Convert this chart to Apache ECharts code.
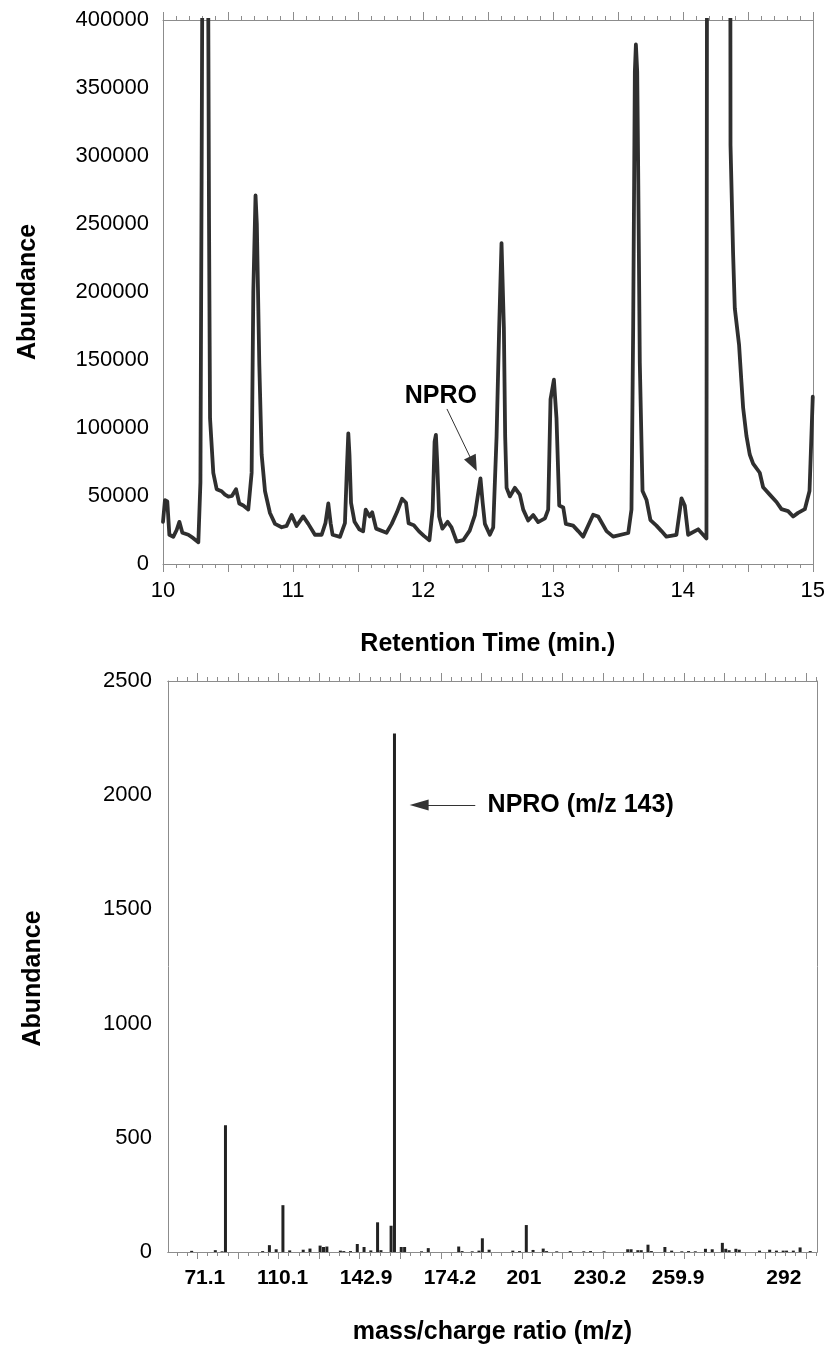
<!DOCTYPE html>
<html><head><meta charset="utf-8">
<script src="https://cdn.jsdelivr.net/npm/echarts@6/dist/echarts.min.js"></script>
<style>html,body{margin:0;padding:0;background:#fff}#c{width:828px;height:1349px}</style>
</head><body><div id="c"></div>
<script>
// ---- Chromatogram (retention time in min, abundance) ----
const rtTime = [10.000,10.015,10.033,10.049,10.079,10.105,10.126,10.149,10.195,10.233,10.272,10.288,10.297,10.306,10.344,10.354,10.362,10.387,10.413,10.451,10.477,10.503,10.530,10.562,10.587,10.618,10.656,10.682,10.695,10.712,10.722,10.741,10.759,10.785,10.823,10.862,10.913,10.951,10.990,11.028,11.079,11.118,11.169,11.221,11.250,11.272,11.290,11.305,11.362,11.400,11.415,11.426,11.435,11.447,11.474,11.510,11.540,11.560,11.590,11.610,11.640,11.720,11.760,11.800,11.840,11.870,11.890,11.930,11.970,12.010,12.050,12.075,12.090,12.100,12.110,12.125,12.150,12.190,12.220,12.260,12.310,12.360,12.400,12.430,12.443,12.460,12.477,12.515,12.541,12.567,12.587,12.605,12.623,12.633,12.644,12.669,12.708,12.746,12.772,12.810,12.849,12.887,12.939,12.964,12.982,13.008,13.028,13.049,13.080,13.100,13.156,13.195,13.233,13.310,13.349,13.413,13.464,13.580,13.605,13.618,13.631,13.639,13.649,13.656,13.669,13.690,13.721,13.751,13.797,13.836,13.874,13.951,13.990,14.015,14.041,14.118,14.182,14.196,14.356,14.367,14.387,14.400,14.433,14.451,14.464,14.490,14.515,14.541,14.592,14.618,14.669,14.721,14.759,14.810,14.849,14.887,14.939,14.975,15.000];
const rtAbundance = [31000,47000,46000,21500,20000,25000,31000,23000,21500,19000,16000,60000,282000,520000,520000,255000,107000,67000,55000,53500,51000,49500,50000,55000,44500,43000,40000,67000,200000,271000,250000,147000,80500,53500,37500,29500,27000,28000,36000,28000,35000,29500,21500,21500,30000,44500,30000,21500,20000,30000,70000,96000,80000,45000,31000,25500,24000,40000,35000,38000,26000,23000,29500,38000,48000,45000,30000,28500,24000,20500,17500,40000,90000,95000,75000,35000,26000,31000,27000,16500,17500,24500,36000,55000,63000,45000,29500,21500,26800,94000,174000,236000,174000,94000,56000,49700,56000,51000,40000,32000,36000,30800,33500,40000,121000,135500,107000,43000,41600,29500,28200,24200,20100,36200,34900,24200,20100,22800,40000,174000,362000,382000,362000,295000,148000,53700,47000,32200,28200,24200,20100,21500,48300,43000,21500,25500,18800,1500000,1500000,308000,228000,188000,161000,134000,115000,94000,80500,73800,67100,56400,51000,45600,40300,38900,34900,37600,40300,53700,123000];

// ---- Mass spectrum (scan channel index along the m/z axis, abundance) ----
const msChannel = [7,14,16,17,28,30,32,34,36,40,42,45,46,47,51,52,54,56,58,60,62,63,66,67,69,70,75,77,86,87,90,92,93,95,102,104,106,108,111,112,115,119,123,125,129,136,137,139,140,142,143,147,149,152,154,156,159,161,164,165,166,168,169,175,178,180,182,183,185,187,190];
const msAbundance = [5,8,3,555,4,30,12,205,7,10,15,28,22,24,6,4,4,35,22,7,130,8,115,2270,22,22,3,17,24,4,3,6,60,10,6,4,118,9,15,4,3,4,3,4,3,12,12,8,8,32,4,22,6,3,4,3,14,12,40,14,8,14,10,6,10,6,6,6,6,20,4];
const msTickLabels = ['71.1','110.1','142.9','174.2','201','230.2','259.9','292'];
const msTickLabelChannel = [10.9,33.9,58.6,83.4,105.3,127.8,150.9,182.2];

const FONT = 'Liberation Sans, Arial, sans-serif';
const AX = '#8c8c8c';

const msMajorTicks = [];
for (let k = 0; k < 16; k++) msMajorTicks.push(8.7 + 12 * k);
const msMinorTicks = [];
for (let j = -2; j <= 61; j++) msMinorTicks.push(8.7 + 3 * j);

const chart = echarts.init(document.getElementById('c'), null, {renderer: 'canvas'});

const tickLabelStyle = {fontFamily: FONT, fontSize: 22, color: '#000'};
const titleStyle = {fontFamily: FONT, fontSize: 25, fontWeight: 'bold', color: '#000'};
const plain = v => String(v);

function msAxis(pos, ticks, len, withLabels) {
  return {
    type: 'value', gridIndex: 1, position: pos, min: 0, max: 192,
    axisLine: {show: true, onZero: false, lineStyle: {color: AX, width: 1}},
    axisTick: {show: true, customValues: ticks, length: len, inside: false, lineStyle: {color: AX}},
    splitLine: {show: false},
    axisLabel: withLabels ? Object.assign({}, tickLabelStyle, {
      customValues: msTickLabelChannel, margin: 16, fontWeight: 'bold', fontSize: 21,
      formatter: function (v) {
        const i = msTickLabelChannel.indexOf(v);
        return i >= 0 ? msTickLabels[i] : '';
      }
    }) : {show: false},
    name: withLabels ? 'mass/charge ratio (m/z)' : '',
    nameLocation: 'middle', nameGap: 68, nameTextStyle: titleStyle
  };
}

function rtAxis(pos, withLabels) {
  return {
    type: 'value', gridIndex: 0, position: pos, min: 10, max: 15, interval: 0.5,
    axisLine: {show: true, onZero: false, lineStyle: {color: AX, width: 1}},
    axisTick: {show: true, length: 8, inside: false, lineStyle: {color: AX}},
    minorTick: {show: true, splitNumber: 5, length: 4, lineStyle: {color: AX}},
    splitLine: {show: false},
    axisLabel: withLabels ? Object.assign({}, tickLabelStyle, {
      margin: 16,
      formatter: function (v) { return Math.abs(v - Math.round(v)) < 1e-6 ? String(Math.round(v)) : ''; }
    }) : {show: false},
    name: withLabels ? 'Retention Time (min.)' : '',
    nameLocation: 'middle', nameGap: 68, nameTextStyle: titleStyle
  };
}

const option = {
  animation: false,
  backgroundColor: '#fff',
  grid: [
    {left: 163, right: 15, top: 20, height: 544},
    {left: 168, right: 11, top: 681, height: 571}
  ],
  xAxis: [
    rtAxis('bottom', true),
    rtAxis('top', false),
    msAxis('bottom', msMajorTicks, 7, true),
    msAxis('bottom', msMinorTicks, 4, false),
    msAxis('top', msMajorTicks, 8, false),
    msAxis('top', msMinorTicks, 4, false)
  ],
  yAxis: [
    {type: 'value', gridIndex: 0, min: 0, max: 400000, interval: 50000,
     axisLine: {show: true, onZero: false, lineStyle: {color: AX}}, axisTick: {show: false},
     splitLine: {show: false}, axisLabel: Object.assign({margin: 14, formatter: plain}, tickLabelStyle),
     name: 'Abundance', nameLocation: 'middle', nameGap: 122, nameRotate: 90, nameTextStyle: titleStyle},
    {type: 'value', gridIndex: 0, position: 'right', min: 0, max: 400000,
     axisLine: {show: true, onZero: false, lineStyle: {color: AX}}, axisTick: {show: false},
     splitLine: {show: false}, axisLabel: {show: false}},
    {type: 'value', gridIndex: 1, min: 0, max: 2500, interval: 500,
     axisLine: {show: true, onZero: false, lineStyle: {color: AX}}, axisTick: {show: false},
     splitLine: {show: false}, axisLabel: Object.assign({margin: 16, formatter: plain}, tickLabelStyle),
     name: 'Abundance', nameLocation: 'middle', nameGap: 122, nameRotate: 90,
     nameTextStyle: Object.assign({}, titleStyle, {padding: [0, 0, 0, -24]})},
    {type: 'value', gridIndex: 1, position: 'right', min: 0, max: 2500,
     axisLine: {show: true, onZero: false, lineStyle: {color: AX}}, axisTick: {show: false},
     splitLine: {show: false}, axisLabel: {show: false}}
  ],
  series: [
    {
      type: 'line', xAxisIndex: 0, yAxisIndex: 0,
      data: rtTime.map((t, i) => [t, rtAbundance[i]]),
      showSymbol: false, symbol: 'none', clip: true,
      lineStyle: {color: '#2f2f2f', width: 3.8, join: 'round', cap: 'round'},
      markLine: {
        silent: true, animation: false,
        lineStyle: {color: '#333', width: 1, type: 'solid'},
        label: {show: false},
        data: [[
          {coord: [12.185, 114000], symbol: 'none'},
          {coord: [12.388, 73700], symbol: 'triangle', symbolSize: [13, 16]}
        ]]
      },
      markPoint: {
        silent: true, symbol: 'circle', symbolSize: 1, itemStyle: {color: 'rgba(0,0,0,0)'},
        label: {show: true, position: 'inside', formatter: 'NPRO', fontFamily: FONT, fontSize: 25, fontWeight: 'bold', color: '#000'},
        data: [{coord: [12.138, 123500]}]
      }
    },
    {
      type: 'bar', xAxisIndex: 2, yAxisIndex: 2,
      data: msChannel.map((c, i) => [c, msAbundance[i]]),
      barWidth: 3, itemStyle: {color: '#222'},
      markLine: {
        silent: true, animation: false,
        lineStyle: {color: '#333', width: 1, type: 'solid'},
        label: {show: false},
        data: [[
          {coord: [90.9, 1957], symbol: 'none'},
          {coord: [74.3, 1957], symbol: 'triangle', symbolSize: [11, 19]}
        ]]
      },
      markPoint: {
        silent: true, symbol: 'circle', symbolSize: 1, itemStyle: {color: 'rgba(0,0,0,0)'},
        label: {show: true, position: 'right', distance: 0, formatter: 'NPRO (m/z 143)', fontFamily: FONT, fontSize: 25, fontWeight: 'bold', color: '#000'},
        data: [{coord: [94.4, 1957]}]
      }
    }
  ]
};
chart.setOption(option);
</script>
</body></html>
